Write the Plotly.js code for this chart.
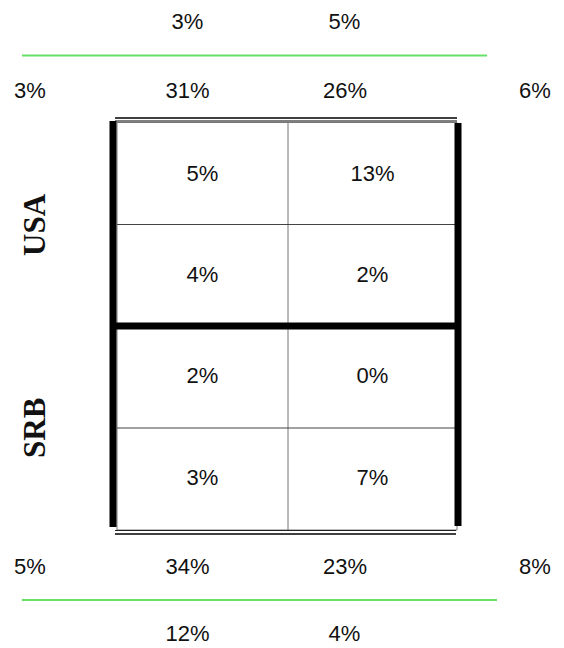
<!DOCTYPE html>
<html><head><meta charset="utf-8">
<script src="https://cdn.plot.ly/plotly-3.0.1.min.js"></script>
<style>html,body{margin:0;padding:0;background:#fff}#chart{width:564px;height:648px}</style>
</head><body><div id="chart"></div>
<script>
// ---- data ----
const rowLabels = ['USA', 'SRB'];
const cellValues = [[5, 13], [4, 2], [2, 0], [3, 7]];
const topOuter = [3, 5];
const topInner = [3, 31, 26, 6];
const bottomInner = [5, 34, 23, 8];
const bottomOuter = [12, 4];

// ---- geometry (pixel-like axis units) ----
const colX = [202.5, 372.5];
const rowY = [175, 276, 377.5, 479];
const edgeX = [30, 187.5, 345, 535];
const outerX = [187.5, 344.5];
const yTopOuter = 23, yTopInner = 92, yBotInner = 568, yBotOuter = 635;
const gridL = 117, gridR = 457, gridT = 122.5, gridB = 530;
const pct = v => v + '%';
const txtFont = {family: 'Liberation Sans, Arial, sans-serif', size: 22, color: '#111'};

const cx = [], cy = [], ct = [];
cellValues.forEach((row, r) => row.forEach((v, c) => { cx.push(colX[c]); cy.push(rowY[r]); ct.push(pct(v)); }));

const traces = [
  {x: cx, y: cy, text: ct},
  {x: outerX, y: topOuter.map(() => yTopOuter), text: topOuter.map(pct)},
  {x: edgeX, y: topInner.map(() => yTopInner), text: topInner.map(pct)},
  {x: edgeX, y: bottomInner.map(() => yBotInner), text: bottomInner.map(pct)},
  {x: outerX, y: bottomOuter.map(() => yBotOuter), text: bottomOuter.map(pct)}
].map(t => Object.assign(t, {type: 'scatter', mode: 'text', textposition: 'middle center', textfont: txtFont, hoverinfo: 'skip', showlegend: false, cliponaxis: false}));

const line = (x0, y0, x1, y1, color, width) => ({type: 'line', xref: 'x', yref: 'y', x0, y0, x1, y1, line: {color, width}});
const gray = '#777';
const shapes = [
  {type: 'rect', xref: 'x', yref: 'y', x0: gridL, y0: gridT, x1: gridR, y1: gridB, line: {color: gray, width: 1}},
  line(288, gridT, 288, gridB, gray, 1),
  line(gridL, 224.5, gridR, 224.5, '#444', 1),
  line(gridL, 428, gridR, 428, '#444', 1),
  line(115, 118, 457, 118, '#000', 1.6),
  line(115, 121, 457, 121, '#000', 1),
  line(115, 530.5, 456, 530.5, '#222', 1.2),
  line(115, 534, 456, 534, '#000', 1.6),
  line(113, 121, 113, 527, '#000', 7),
  line(458, 123, 458, 526, '#000', 7),
  line(113, 326, 458, 326, '#000', 7),
  line(22, 55.5, 487, 55.5, '#66e066', 2),
  line(22, 600, 497, 600, '#66e066', 2)
];

const annotations = rowLabels.map((lab, i) => ({
  xref: 'x', yref: 'y', x: 34, y: i === 0 ? 225 : 428,
  text: '<b>' + lab + '</b>', textangle: -90, showarrow: false,
  font: {family: 'Liberation Serif, Times New Roman, serif', size: 31, color: '#111'}
}));

const layout = {
  width: 564, height: 648,
  margin: {l: 0, r: 0, t: 0, b: 0},
  paper_bgcolor: '#fff', plot_bgcolor: '#fff',
  xaxis: {range: [0, 564], visible: false, fixedrange: true},
  yaxis: {range: [648, 0], visible: false, fixedrange: true},
  shapes, annotations, showlegend: false
};
Plotly.newPlot('chart', traces, layout, {staticPlot: true, displayModeBar: false});
</script></body></html>
